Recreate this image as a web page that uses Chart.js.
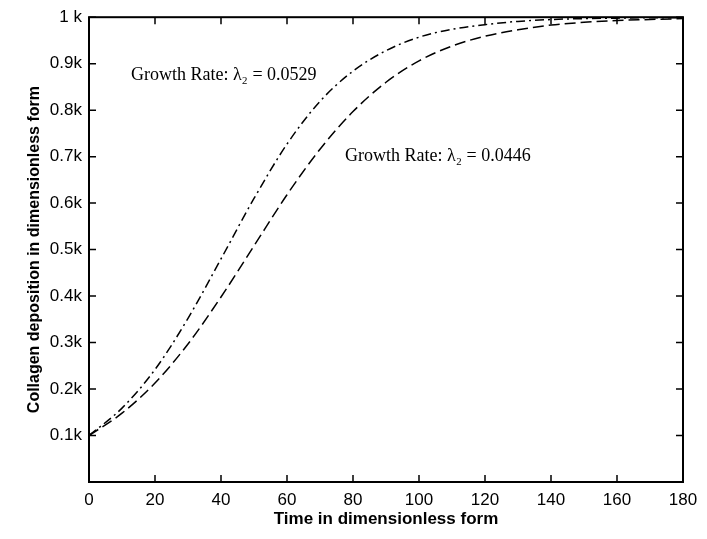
<!DOCTYPE html>
<html>
<head>
<meta charset="utf-8">
<script src="https://cdn.jsdelivr.net/npm/chart.js@4.4.0/dist/chart.umd.min.js"></script>
<style>
  html, body { margin: 0; padding: 0; background: #fff; }
</style>
</head>
<body>
<canvas id="collagenChart" width="707" height="539"></canvas>
<script>
/* Data */
const timeValues = [0, 10, 20, 30, 40, 50, 60, 70, 80, 90, 100, 110, 120, 130, 140, 150, 160, 170, 180];
// growth rate 0.0529 (dash-dot)
const fastCurve = [100, 159, 242, 352, 480, 610, 727, 819, 884, 928, 957, 974, 984, 991, 995, 997, 998, 999, 999];
// growth rate 0.0446 (dashed)
const slowCurve = [100, 148, 213, 297, 398, 508, 618, 716, 797, 860, 906, 938, 959, 973, 983, 989, 993, 995, 997];
const yTickLabels = ["", "0.1k", "0.2k", "0.3k", "0.4k", "0.5k", "0.6k", "0.7k", "0.8k", "0.9k", "1 k"];
const noteTexts = ["Growth Rate: \u03bb\u2082 = 0.0529", "Growth Rate: \u03bb\u2082 = 0.0446"];
const noteAt = [[12.7, 876], [77.6, 700]];

function toPoints(ys) {
  return ys.map((y, i) => ({ x: timeValues[i], y: y }));
}

/* frame, inward ticks and the curve labels */
const framePlugin = {
  id: "frame",
  afterDraw(chart) {
    const ctx = chart.ctx;
    const a = chart.chartArea;
    const xs = chart.scales.x;
    const ys = chart.scales.y;
    const len = 7;
    ctx.save();
    ctx.strokeStyle = "#000";
    ctx.lineWidth = 2;
    ctx.strokeRect(a.left, a.top, a.right - a.left, a.bottom - a.top);
    ctx.lineWidth = 1.5;
    ctx.beginPath();
    xs.ticks.forEach((t) => {
      const px = xs.getPixelForValue(t.value);
      ctx.moveTo(px, a.bottom); ctx.lineTo(px, a.bottom - len);
      ctx.moveTo(px, a.top); ctx.lineTo(px, a.top + len);
    });
    ys.ticks.forEach((t) => {
      const py = ys.getPixelForValue(t.value);
      ctx.moveTo(a.left, py); ctx.lineTo(a.left + len, py);
      ctx.moveTo(a.right, py); ctx.lineTo(a.right - len, py);
    });
    ctx.stroke();

    ctx.fillStyle = "#000";
    ctx.font = "18px 'Liberation Serif', 'DejaVu Serif', serif";
    ctx.textAlign = "left";
    ctx.textBaseline = "middle";
    noteTexts.forEach((txt, i) => {
      ctx.fillText(txt, xs.getPixelForValue(noteAt[i][0]), ys.getPixelForValue(noteAt[i][1]));
    });
    ctx.restore();
  },
};

const tickFont = { family: "'Liberation Sans', Arial, sans-serif", size: 17 };

new Chart(document.getElementById("collagenChart"), {
  type: "line",
  data: {
    datasets: [
      {
        label: "0.0529",
        data: toPoints(fastCurve),
        borderColor: "#000",
        borderWidth: 1.5,
        borderDash: [9, 4, 2, 4],
        pointRadius: 0,
        fill: false,
        cubicInterpolationMode: "monotone",
      },
      {
        label: "0.0446",
        data: toPoints(slowCurve),
        borderColor: "#000",
        borderWidth: 1.5,
        borderDash: [11, 5],
        pointRadius: 0,
        fill: false,
        cubicInterpolationMode: "monotone",
      },
    ],
  },
  options: {
    responsive: false,
    animation: false,
    layout: { padding: { top: 15, right: 24, left: 0, bottom: 0 } },
    plugins: { legend: { display: false }, tooltip: { enabled: false } },
    scales: {
      x: {
        type: "linear",
        min: 0,
        max: 180,
        grid: { display: false, drawTicks: false, tickLength: 0 },
        border: { display: false },
        ticks: { stepSize: 20, color: "#000", font: tickFont, padding: 8, maxRotation: 0 },
        title: {
          display: true,
          text: "Time in dimensionless form",
          color: "#000",
          font: { family: "'Liberation Sans', Arial, sans-serif", size: 17, weight: "bold" },
          padding: { top: 0, bottom: 9 },
        },
        afterFit(scale) { scale.height = 57; },
      },
      y: {
        type: "linear",
        min: 0,
        max: 1000,
        grid: { display: false, drawTicks: false, tickLength: 0 },
        border: { display: false },
        ticks: {
          stepSize: 100,
          color: "#000",
          font: tickFont,
          padding: 7,
          callback: (value, index) => yTickLabels[index],
        },
        title: {
          display: true,
          text: "Collagen deposition in dimensionless form",
          color: "#000",
          font: { family: "'Liberation Sans', Arial, sans-serif", size: 16, weight: "bold" },
          padding: { top: 25, bottom: 0 },
        },
        afterFit(scale) { scale.width = 89; },
      },
    },
  },
  plugins: [framePlugin],
});
</script>
</body>
</html>
